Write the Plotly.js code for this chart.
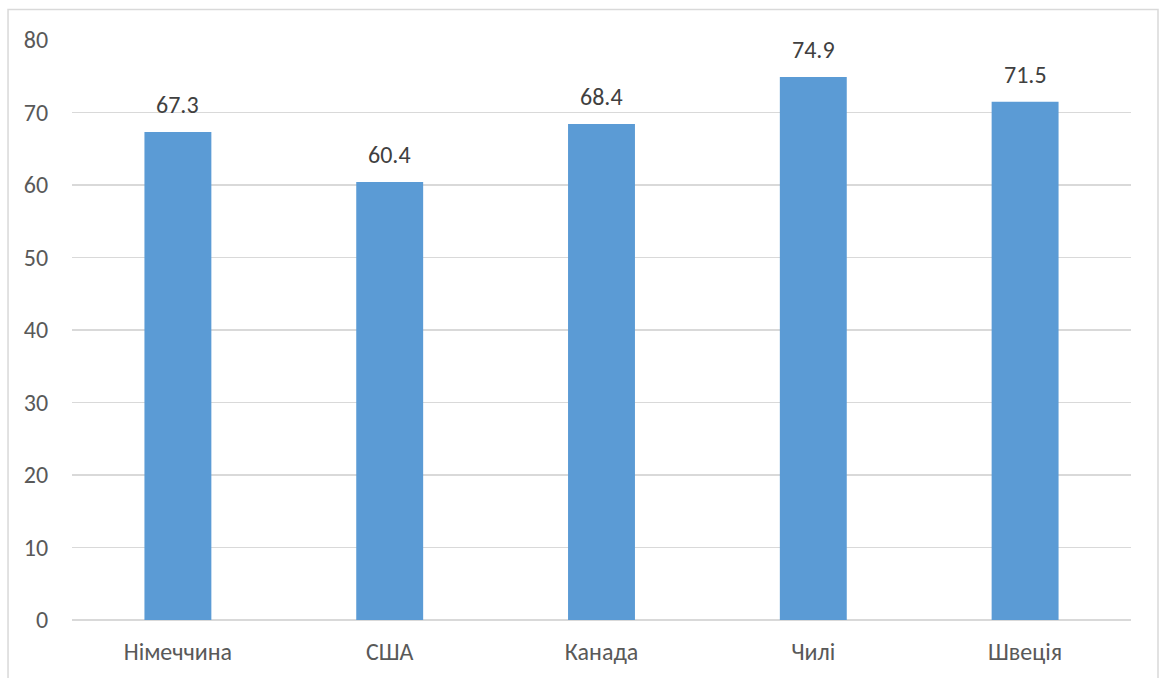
<!DOCTYPE html>
<html>
<head>
<meta charset="utf-8">
<script src="https://cdn.plot.ly/plotly-3.0.1.min.js"></script>
<style>
  html, body { margin: 0; padding: 0; background: #ffffff; }
  #chart { width: 1163px; height: 678px; }
</style>
</head>
<body>
<div id="chart"></div>
<script>
// Countries and their values
const countries = ['Німеччина', 'США', 'Канада', 'Чилі', 'Швеція'];
const values = [67.3, 60.4, 68.4, 74.9, 71.5];
const yTicks = [0, 10, 20, 30, 40, 50, 60, 70, 80];

const barColor = '#5B9BD5';
const textColor = '#595959';
const gridColor = '#d9d9d9';
const fontFamily = 'Carlito, Calibri, "Liberation Sans", "Noto Sans", sans-serif';
const fontSize = 24;

const trace = {
  type: 'bar',
  x: countries,
  y: values,
  marker: { color: barColor },
  hoverinfo: 'x+y'
};

// Value labels sit a little above each bar
const labels = countries.map((c, i) => ({
  x: c,
  y: values[i],
  text: values[i].toFixed(1),
  showarrow: false,
  xref: 'x',
  yref: 'y',
  yanchor: 'bottom',
  yshift: 11,
  font: { family: fontFamily, size: fontSize, color: '#404040' }
}));

const layout = {
  width: 1163,
  height: 678,
  margin: { l: 72, r: 32, t: 40, b: 58 },
  paper_bgcolor: '#ffffff',
  plot_bgcolor: '#ffffff',
  showlegend: false,
  bargap: 0.684,
  font: { family: fontFamily, size: fontSize, color: textColor },
  xaxis: {
    type: 'category',
    showgrid: false,
    showline: false,
    zeroline: false,
    ticks: 'outside',
    ticklen: 10,
    tickcolor: 'rgba(0,0,0,0)',
    tickfont: { family: fontFamily, size: fontSize, color: textColor }
  },
  yaxis: {
    range: [0, 80],
    tickvals: yTicks,
    ticktext: yTicks.map(String),
    showgrid: true,
    gridcolor: gridColor,
    gridwidth: 1.3,
    zeroline: true,
    zerolinecolor: gridColor,
    zerolinewidth: 1.3,
    showline: false,
    ticks: 'outside',
    ticklen: 18,
    tickcolor: 'rgba(0,0,0,0)',
    tickfont: { family: fontFamily, size: fontSize, color: textColor }
  },
  annotations: labels,
  shapes: [{
    type: 'rect',
    xref: 'paper',
    yref: 'paper',
    x0: -0.0604,
    x1: 1.0255,
    y0: -0.2,
    y1: 1.0526,
    line: { color: '#d9d9d9', width: 1.5 },
    fillcolor: 'rgba(0,0,0,0)',
    layer: 'below'
  }]
};

Plotly.newPlot('chart', [trace], layout, { displayModeBar: false, staticPlot: true });
</script>
</body>
</html>
